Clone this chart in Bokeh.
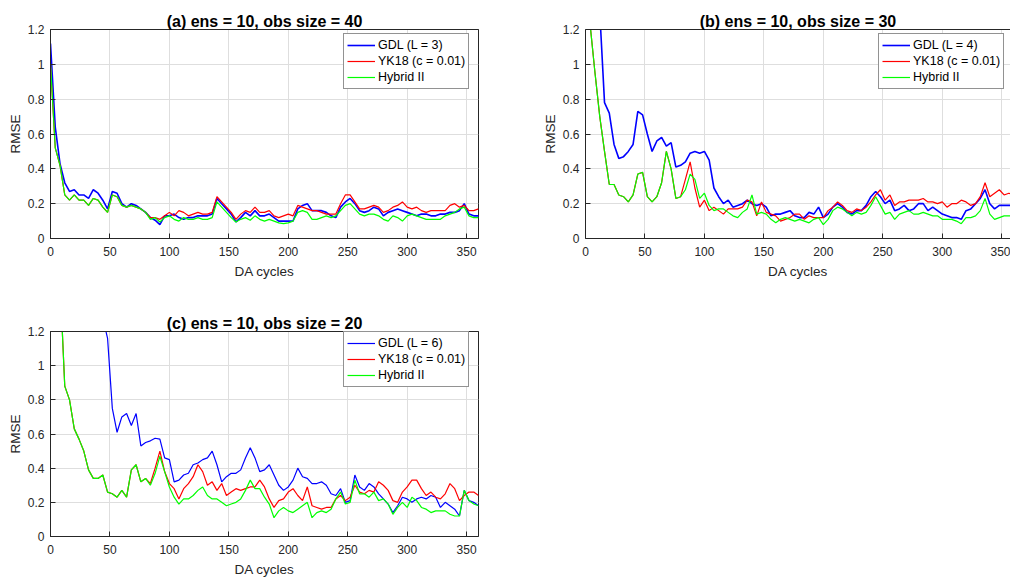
from bokeh.plotting import figure
from bokeh.models import Range1d, LinearAxis, FixedTicker, CustomJSTickFormatter
from bokeh.layouts import column, row
from bokeh.embed import file_html
from bokeh.resources import INLINE

# ---------------- data ----------------
cycles = list(range(0, 361, 4))

x_ticks = [0, 50, 100, 150, 200, 250, 300, 350]
y_ticks = [0, 0.2, 0.4, 0.6, 0.8, 1.0, 1.2]

titles = ["(a) ens = 10, obs size = 40",
          "(b) ens = 10, obs size = 30",
          "(c) ens = 10, obs size = 20"]
gdl_labels = ["GDL (L = 3)", "GDL (L = 4)", "GDL (L = 6)"]
yk_label = "YK18 (c = 0.01)"
hyb_label = "Hybrid II"

gdl_a = [1.12, 0.64, 0.43, 0.32, 0.27, 0.28, 0.25, 0.25, 0.23, 0.28,
         0.26, 0.22, 0.17, 0.27, 0.26, 0.20, 0.18, 0.20, 0.19, 0.17,
         0.15, 0.12, 0.105, 0.08, 0.13, 0.13, 0.14, 0.12, 0.11, 0.12,
         0.12, 0.13, 0.13, 0.13, 0.14, 0.23, 0.20, 0.17, 0.14, 0.095,
         0.12, 0.15, 0.13, 0.16, 0.13, 0.13, 0.14, 0.12, 0.10, 0.10,
         0.10, 0.10, 0.17, 0.19, 0.20, 0.16, 0.16, 0.16, 0.15, 0.13,
         0.12, 0.18, 0.21, 0.23, 0.20, 0.16, 0.15, 0.16, 0.18, 0.17,
         0.13, 0.15, 0.16, 0.17, 0.16, 0.15, 0.14, 0.13, 0.14, 0.14,
         0.13, 0.13, 0.14, 0.14, 0.15, 0.15, 0.16, 0.20, 0.14, 0.13,
         0.13]
yk_a = [1.00, 0.52, 0.42, 0.25, 0.22, 0.25, 0.22, 0.22, 0.19, 0.23,
        0.22, 0.18, 0.15, 0.25, 0.24, 0.19, 0.18, 0.19, 0.18, 0.17,
        0.15, 0.12, 0.12, 0.11, 0.13, 0.15, 0.13, 0.16, 0.15, 0.13,
        0.14, 0.15, 0.14, 0.14, 0.15, 0.24, 0.21, 0.18, 0.15, 0.11,
        0.14, 0.16, 0.15, 0.18, 0.15, 0.15, 0.16, 0.13, 0.12, 0.13,
        0.14, 0.13, 0.19, 0.18, 0.17, 0.16, 0.16, 0.15, 0.14, 0.14,
        0.14, 0.20, 0.25, 0.25, 0.21, 0.17, 0.17, 0.18, 0.19, 0.18,
        0.15, 0.16, 0.18, 0.19, 0.21, 0.18, 0.17, 0.18, 0.16, 0.15,
        0.16, 0.16, 0.16, 0.16, 0.19, 0.20, 0.18, 0.19, 0.16, 0.16,
        0.17]
hyb_a = [1.00, 0.52, 0.42, 0.25, 0.22, 0.25, 0.22, 0.22, 0.19, 0.23,
         0.22, 0.18, 0.15, 0.25, 0.24, 0.19, 0.18, 0.19, 0.18, 0.17,
         0.15, 0.11, 0.12, 0.095, 0.12, 0.13, 0.11, 0.10, 0.12, 0.11,
         0.11, 0.12, 0.11, 0.11, 0.12, 0.21, 0.18, 0.15, 0.12, 0.095,
         0.11, 0.12, 0.105, 0.13, 0.11, 0.10, 0.11, 0.10, 0.09, 0.085,
         0.09, 0.10, 0.15, 0.16, 0.15, 0.11, 0.11, 0.12, 0.13, 0.12,
         0.13, 0.16, 0.19, 0.20, 0.17, 0.14, 0.13, 0.14, 0.14, 0.13,
         0.11, 0.10, 0.13, 0.12, 0.10, 0.13, 0.14, 0.13, 0.12, 0.11,
         0.11, 0.11, 0.11, 0.13, 0.14, 0.15, 0.17, 0.18, 0.13, 0.12,
         0.12]

gdl_b = [2.00, 1.70, 1.45, 1.30, 0.78, 0.72, 0.54, 0.46, 0.47, 0.50,
         0.54, 0.73, 0.71, 0.60, 0.50, 0.56, 0.58, 0.53, 0.55, 0.41,
         0.42, 0.44, 0.49, 0.50, 0.49, 0.50, 0.45, 0.29, 0.24, 0.20,
         0.22, 0.18, 0.19, 0.20, 0.22, 0.20, 0.19, 0.20, 0.18, 0.13,
         0.14, 0.14, 0.15, 0.16, 0.13, 0.12, 0.12, 0.15, 0.14, 0.18,
         0.12, 0.14, 0.18, 0.20, 0.18, 0.15, 0.14, 0.16, 0.16, 0.19,
         0.24, 0.27, 0.24, 0.20, 0.22, 0.16, 0.17, 0.19, 0.16, 0.17,
         0.20, 0.20, 0.16, 0.18, 0.16, 0.14, 0.13, 0.12, 0.12, 0.11,
         0.16, 0.17, 0.20, 0.23, 0.28, 0.20, 0.17, 0.19, 0.19, 0.19,
         0.19]
yk_b = [1.60, 1.22, 0.95, 0.70, 0.50, 0.31, 0.31, 0.25, 0.24, 0.21,
        0.25, 0.37, 0.38, 0.24, 0.21, 0.24, 0.32, 0.50, 0.40, 0.23,
        0.24, 0.34, 0.44, 0.29, 0.18, 0.22, 0.16, 0.18, 0.16, 0.14,
        0.17, 0.17, 0.17, 0.18, 0.22, 0.21, 0.13, 0.21, 0.15, 0.14,
        0.13, 0.10, 0.11, 0.12, 0.14, 0.14, 0.11, 0.13, 0.12, 0.12,
        0.12, 0.16, 0.18, 0.21, 0.19, 0.16, 0.15, 0.17, 0.16, 0.18,
        0.21, 0.25, 0.28, 0.22, 0.25, 0.19, 0.21, 0.21, 0.22, 0.22,
        0.22, 0.23, 0.21, 0.21, 0.20, 0.21, 0.18, 0.20, 0.20, 0.22,
        0.21, 0.19, 0.20, 0.24, 0.32, 0.24, 0.26, 0.28, 0.25, 0.26,
        0.25]
hyb_b = [1.60, 1.22, 0.95, 0.70, 0.50, 0.31, 0.31, 0.25, 0.24, 0.21,
         0.25, 0.37, 0.38, 0.24, 0.21, 0.24, 0.32, 0.50, 0.40, 0.23,
         0.24, 0.28, 0.37, 0.34, 0.23, 0.26, 0.19, 0.16, 0.17, 0.17,
         0.15, 0.13, 0.12, 0.15, 0.17, 0.25, 0.14, 0.15, 0.14, 0.11,
         0.09, 0.11, 0.12, 0.11, 0.10, 0.11, 0.10, 0.09, 0.11, 0.12,
         0.08, 0.11, 0.16, 0.18, 0.17, 0.15, 0.13, 0.15, 0.14, 0.15,
         0.19, 0.24, 0.19, 0.14, 0.15, 0.11, 0.14, 0.15, 0.16, 0.14,
         0.14, 0.15, 0.14, 0.13, 0.13, 0.11, 0.11, 0.11, 0.10, 0.085,
         0.12, 0.12, 0.13, 0.16, 0.23, 0.14, 0.11, 0.12, 0.13, 0.13,
         0.13]

gdl_c = [3.00, 2.70, 2.40, 2.20, 2.00, 1.85, 1.75, 1.65, 1.55, 1.47,
         1.38, 1.28, 1.16, 0.75, 0.61, 0.70, 0.72, 0.65, 0.72, 0.53,
         0.55, 0.56, 0.575, 0.57, 0.46, 0.45, 0.32, 0.33, 0.36, 0.37,
         0.42, 0.43, 0.45, 0.46, 0.50, 0.42, 0.32, 0.35, 0.37, 0.37,
         0.39, 0.46, 0.52, 0.46, 0.38, 0.39, 0.42, 0.36, 0.30, 0.27,
         0.29, 0.33, 0.40, 0.35, 0.34, 0.31, 0.31, 0.32, 0.30, 0.25,
         0.24, 0.28, 0.20, 0.21, 0.36, 0.29, 0.27, 0.31, 0.29, 0.25,
         0.22, 0.19, 0.14, 0.18, 0.23, 0.22, 0.20, 0.22, 0.23, 0.22,
         0.24, 0.23, 0.17, 0.20, 0.18, 0.16, 0.12, 0.27, 0.21, 0.20,
         0.18]
yk_c = [2.20, 1.80, 1.50, 0.88, 0.80, 0.63, 0.57, 0.50, 0.39, 0.34,
        0.34, 0.36, 0.26, 0.25, 0.23, 0.27, 0.23, 0.39, 0.42, 0.32,
        0.34, 0.31, 0.40, 0.50, 0.38, 0.31, 0.28, 0.22, 0.28, 0.31,
        0.35, 0.42, 0.38, 0.30, 0.32, 0.27, 0.31, 0.24, 0.26, 0.28,
        0.27, 0.28, 0.29, 0.29, 0.33, 0.29, 0.22, 0.17, 0.21, 0.22,
        0.26, 0.28, 0.24, 0.21, 0.29, 0.18, 0.17, 0.16, 0.17, 0.17,
        0.22, 0.24, 0.21, 0.23, 0.30, 0.26, 0.25, 0.27, 0.26, 0.32,
        0.30, 0.27, 0.21, 0.20, 0.26, 0.29, 0.33, 0.33, 0.28, 0.24,
        0.26, 0.23, 0.22, 0.25, 0.31, 0.28, 0.21, 0.24, 0.26, 0.26,
        0.24]
hyb_c = [2.20, 1.80, 1.50, 0.88, 0.80, 0.63, 0.57, 0.50, 0.39, 0.34,
         0.34, 0.36, 0.26, 0.25, 0.23, 0.27, 0.23, 0.39, 0.42, 0.32,
         0.34, 0.30, 0.37, 0.47, 0.38, 0.29, 0.23, 0.19, 0.22, 0.22,
         0.24, 0.27, 0.29, 0.24, 0.22, 0.22, 0.20, 0.18, 0.19, 0.20,
         0.22, 0.27, 0.33, 0.28, 0.28, 0.23, 0.19, 0.11, 0.15, 0.17,
         0.15, 0.14, 0.16, 0.18, 0.20, 0.11, 0.14, 0.15, 0.14, 0.16,
         0.22, 0.26, 0.19, 0.20, 0.33, 0.25, 0.25, 0.23, 0.26, 0.21,
         0.22, 0.19, 0.13, 0.17, 0.20, 0.17, 0.23, 0.21, 0.17, 0.16,
         0.14, 0.15, 0.15, 0.15, 0.13, 0.12, 0.12, 0.27, 0.21, 0.19,
         0.18]

# ---------------- styling ----------------
FONT = "Liberation Sans"
AX = "#262626"
GRID = "#dedede"
BLUE, RED, GREEN = "#0000ff", "#ff0000", "#00ff00"

fmt_code = "return tick.toString();"


def style_axis(ax, label_standoff, title_standoff):
    ax.major_tick_in = 5
    ax.major_tick_out = 0
    ax.minor_tick_in = 0
    ax.minor_tick_out = 0
    ax.axis_line_color = AX
    ax.axis_line_width = 1
    ax.major_tick_line_color = AX
    ax.major_label_text_font = FONT
    ax.major_label_text_font_size = "12px"
    ax.major_label_text_color = AX
    ax.axis_label_text_font = FONT
    ax.axis_label_text_font_size = "13.5px"
    ax.axis_label_text_font_style = "normal"
    ax.axis_label_text_color = AX
    ax.major_label_standoff = label_standoff
    ax.axis_label_standoff = title_standoff


def panel(title, gdl, yk, hyb, gdl_label, gdl_w, x_end, w, h, ml, mr, mt, mb, full_box):
    p = figure(width=w, height=h, x_range=Range1d(0, x_end), y_range=Range1d(0, 1.2),
               output_backend="svg", toolbar_location=None,
               min_border_left=ml, min_border_right=mr, min_border_top=mt, min_border_bottom=mb)
    p.background_fill_color = "white"
    p.border_fill_color = "white"

    bottom_axis = p.below[0]
    left_axis = p.left[0]

    xt = FixedTicker(ticks=x_ticks)
    yt = FixedTicker(ticks=y_ticks)
    bottom_axis.ticker = xt
    left_axis.ticker = yt
    left_axis.formatter = CustomJSTickFormatter(code=fmt_code)
    bottom_axis.axis_label = "DA cycles"
    left_axis.axis_label = "RMSE"
    style_axis(bottom_axis, 8, 5)
    style_axis(left_axis, 6, 2)

    # top frame edge (plain line, no ticks/labels)
    top = LinearAxis(ticker=FixedTicker(ticks=[]))
    top.axis_line_color = AX
    top.major_tick_in = 0
    top.major_tick_out = 0
    top.minor_tick_in = 0
    top.minor_tick_out = 0
    top.major_label_standoff = 0
    p.add_layout(top, "above")

    if full_box:
        p.outline_line_color = AX
        p.outline_line_width = 1
        p.outline_line_alpha = 1
    else:
        p.outline_line_color = None

    p.xgrid.ticker = xt
    p.ygrid.ticker = yt
    p.xgrid.grid_line_color = GRID
    p.ygrid.grid_line_color = GRID

    p.title.text = title
    p.title.align = "center"
    p.title.text_font = FONT
    p.title.text_font_size = "16px"
    p.title.text_font_style = "bold"
    p.title.text_color = "black"
    p.title.standoff = 0

    p.line(cycles, gdl, color=BLUE, line_width=gdl_w, legend_label=gdl_label)
    p.line(cycles, yk, color=RED, line_width=1.2, legend_label=yk_label)
    p.line(cycles, hyb, color=GREEN, line_width=1.2, legend_label=hyb_label)

    lg = p.legend[0]
    lg.location = (293, 149)
    lg.margin = 0
    lg.padding = 3
    lg.spacing = 0
    lg.label_height = 16
    lg.glyph_height = 16
    lg.glyph_width = 28
    lg.label_standoff = 3
    lg.label_text_font = FONT
    lg.label_text_font_size = "12.5px"
    lg.label_text_color = "black"
    lg.border_line_color = AX
    lg.border_line_width = 1
    lg.background_fill_color = "white"
    lg.background_fill_alpha = 1
    return p


pa = panel(titles[0], gdl_a, yk_a, hyb_a, gdl_labels[0], 1.6, 360,
           505, 290, 50, 27, 29, 52, True)
pb = panel(titles[1], gdl_b, yk_b, hyb_b, gdl_labels[1], 1.6, 357.4,
           505, 290, 80, 0, 29, 52, False)
pc = panel(titles[2], gdl_c, yk_c, hyb_c, gdl_labels[2], 1.2, 360,
           505, 289, 50, 27, 41, 39, True)

layout = column(row(pa, pb), row(pc))
open("out.html", "w").write(file_html(layout, INLINE))
